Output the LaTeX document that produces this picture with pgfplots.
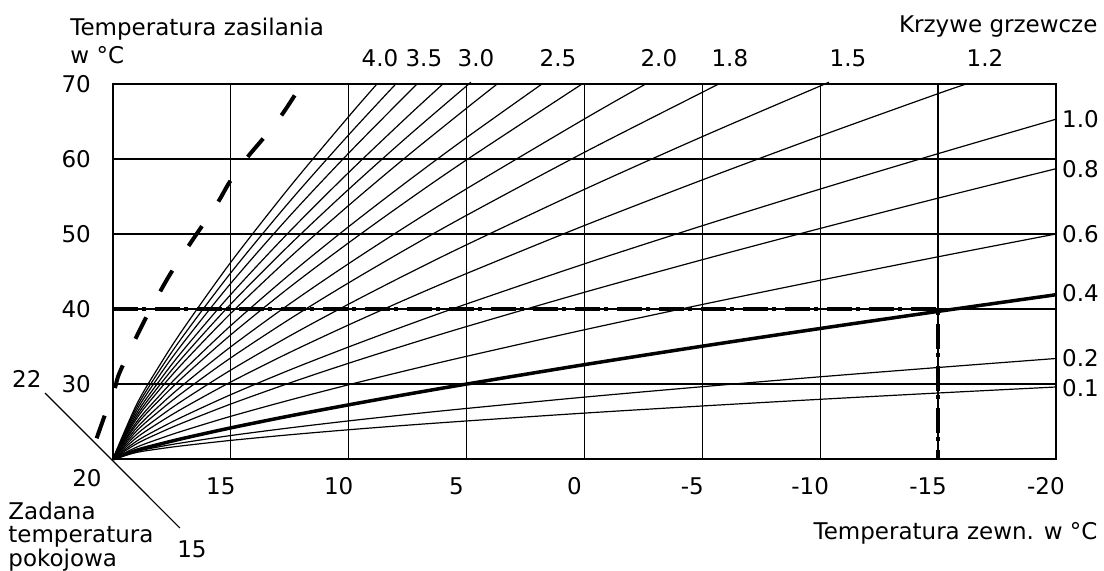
\documentclass[border=0pt]{standalone}
\usepackage{pgfplots}
\pgfplotsset{compat=1.18}
\usepackage{fontspec}
\setmainfont{DejaVu Sans}
\begin{document}
\fontsize{11.5}{13.5}\selectfont
\begin{tikzpicture}
\begin{axis}[
  scale only axis, width=471.5pt, height=187.5pt,
  x dir=reverse, xmin=-20, xmax=20, ymin=20, ymax=70,
  xtick={15,10,5,0,-5,-10,-15,-20},
  xticklabels={15,10,5,0,-5,-10,-15,-20},
  ytick={30,40,50,60,70},
  yticklabels={30,40,50,60,70},
  major tick length=0pt,
  grid=major, grid style={black, line width=0.65pt},
  axis line style={black, line width=1pt},
  clip=false,
  yticklabel style={xshift=-7pt},
  xticklabel style={yshift=-5.3pt, xshift=-5pt},
  hc/.style={black, solid, line width=0.6pt, smooth, no marks},
]
% invisible frame for picture size
\path (axis cs:24.79,81.2) rectangle (axis cs:-22.04,5.07);

% top-ending curves
\addplot[hc] coordinates {(20,20)(19,27.24)(18,32.59)(17,37.42)(15,46.23)(12.5,56.27)(10,65.66)(8.8,70)};
\addplot[hc] coordinates {(20,20)(19,26.85)(18,31.92)(17,36.49)(15,44.82)(12.5,54.34)(10,63.22)(8,70)};
\addplot[hc] coordinates {(20,20)(19,26.46)(18,31.25)(17,35.56)(15,43.42)(12.5,52.40)(10,60.78)(7.5,68.75)(7.1,70)};
\addplot[hc] coordinates {(20,20)(19,26.06)(18,30.54)(17,34.58)(15,41.94)(12.5,50.35)(10,58.20)(7.5,65.67)(6.0,70)};
\addplot[hc] coordinates {(20,20)(19,25.70)(18,29.92)(17,33.72)(15,40.66)(12.5,48.57)(10,55.96)(7.5,62.99)(5,69.74)(4.9,70)};
\addplot[hc] coordinates {(20,20)(19,25.36)(18,29.33)(17,32.90)(15,39.42)(12.5,46.87)(10,53.81)(7.5,60.43)(5,66.77)(3.7,70)};
\addplot[hc] coordinates {(20,20)(19,24.91)(18,28.54)(17,31.82)(15,37.79)(12.5,44.61)(10,50.98)(7.5,57.03)(5,62.85)(1.8,70)};
\addplot[hc] coordinates {(20,20)(19,24.57)(18,27.95)(17,31.00)(15,36.56)(12.5,42.91)(10,48.83)(7.5,54.47)(5,59.88)(0.1,70)};
\addplot[hc] coordinates {(20,20)(19,24.13)(18,27.18)(17,29.94)(15,34.96)(12.5,40.69)(10,46.05)(7.5,51.14)(5,56.03)(0,65.34)(-2.6,70)};
\addplot[hc] coordinates {(20,20)(19,23.72)(18,26.48)(17,28.96)(15,33.49)(12.5,38.66)(10,43.49)(7.5,48.08)(5,52.49)(0,60.89)(-5,68.89)(-5.7,70)};
\addplot[hc] coordinates {(20,20)(19,23.27)(18,25.70)(17,27.88)(15,31.86)(12.5,36.41)(10,40.65)(7.5,44.69)(5,48.56)(0,55.95)(-5,62.98)(-10,69.73)(-10.2,70)};
\addplot[hc] coordinates {(20,20)(19,22.83)(18,24.93)(17,26.82)(15,30.27)(12.5,34.21)(10,37.88)(7.5,41.38)(5,44.73)(0,51.13)(-5,57.21)(-10,63.06)(-15,68.71)(-16.2,70)};
% right-ending curves
\addplot[hc] coordinates {(20,20)(19,22.37)(18,24.12)(17,25.70)(15,28.58)(12.5,31.87)(10,34.94)(7.5,37.87)(5,40.67)(0,46.02)(-5,51.10)(-10,55.99)(-15,60.71)(-20,65.3)};
\addplot[hc] coordinates {(20,20)(19,22.02)(18,23.52)(17,24.87)(15,27.33)(12.5,30.14)(10,32.77)(7.5,35.26)(5,37.66)(0,42.23)(-5,46.57)(-10,50.74)(-15,54.78)(-20,58.7)};
\addplot[hc] coordinates {(20,20)(19,21.57)(18,22.73)(17,23.78)(15,25.69)(12.5,27.86)(10,29.90)(7.5,31.83)(5,33.69)(0,37.23)(-5,40.60)(-10,43.83)(-15,46.96)(-20,50)};
\addplot[hc, line width=1.75pt] coordinates {(20,20)(19,21.15)(18,21.99)(17,22.76)(15,24.15)(12.5,25.74)(10,27.22)(7.5,28.64)(5,29.99)(0,32.58)(-5,35.04)(-10,37.40)(-15,39.68)(-20,41.9)};
\addplot[hc] coordinates {(20,20)(19,21.01)(18,21.65)(17,22.19)(15,23.13)(12.5,24.15)(10,25.08)(7.5,25.94)(5,26.74)(0,28.25)(-5,29.64)(-10,30.96)(-15,32.20)(-20,33.4)};
\addplot[hc] coordinates {(20,20)(19,20.87)(18,21.37)(17,21.78)(15,22.48)(12.5,23.23)(10,23.90)(7.5,24.51)(5,25.07)(0,26.12)(-5,27.07)(-10,27.96)(-15,28.80)(-20,29.6)};

% dashed curve (room setpoint 22)
\addplot[black, no marks, smooth, line width=2pt, dash pattern=on 12pt off 14.75pt] coordinates {(20.69,22.76)(20.34,25.87)(19.92,29.43)(19.70,31.64)(18.70,38.20)(17.67,44.13)(16.81,48.31)(16.24,50.97)(15.53,54.31)(15.04,56.97)(14.33,60.09)(13.62,62.76)(12.84,65.87)(12.28,68.53)};

% dash-dot reading line
\addplot[black, no marks, sharp plot, line width=2pt, dash pattern=on 12.5pt off 2pt on 2pt off 4.5pt] coordinates {(20,40)(-15,40)(-15,20)};

% texts
\node[anchor=base west, inner sep=0] at (axis cs:21.82,76.53) {Temperatura zasilania};
\node[anchor=base west, inner sep=0] at (axis cs:21.82,72.67) {w °C};
\node[anchor=base east, inner sep=0] at (axis cs:-21.78,76.93) {Krzywe grzewcze};
\node[anchor=base, inner sep=0] at (axis cs:8.67,72.27) {4.0};
\node[anchor=base, inner sep=0] at (axis cs:6.81,72.27) {3.5};
\node[anchor=base, inner sep=0] at (axis cs:4.60,72.27) {3.0};
\node[anchor=base, inner sep=0] at (axis cs:1.12,72.27) {2.5};
\node[anchor=base, inner sep=0] at (axis cs:-3.16,72.27) {2.0};
\node[anchor=base, inner sep=0] at (axis cs:-6.17,72.27) {1.8};
\node[anchor=base, inner sep=0] at (axis cs:-11.18,72.27) {1.5};
\node[anchor=base, inner sep=0] at (axis cs:-16.99,72.27) {1.2};
\node[anchor=west, inner sep=0] at (axis cs:-20.25,65.33) {1.0};
\node[anchor=west, inner sep=0] at (axis cs:-20.25,58.67) {0.8};
\node[anchor=west, inner sep=0] at (axis cs:-20.25,50) {0.6};
\node[anchor=west, inner sep=0] at (axis cs:-20.25,42.1) {0.4};
\node[anchor=west, inner sep=0] at (axis cs:-20.25,33.47) {0.2};
\node[anchor=west, inner sep=0] at (axis cs:-20.25,29.47) {0.1};
\node[inner sep=0] at (axis cs:21.10,17.47) {20};
\node[inner sep=0] at (axis cs:23.65,30.67) {22};
\node[inner sep=0] at (axis cs:16.65,8.0) {15};
\draw[line width=0.6pt] (axis cs:22.88,28.8) -- (axis cs:17.16,10.8);
\node[anchor=base west, inner sep=0] at (axis cs:24.45,11.87) {Zadana};
\node[anchor=base west, inner sep=0] at (axis cs:24.45,8.8) {temperatura};
\node[anchor=base west, inner sep=0] at (axis cs:24.45,5.73) {pokojowa};
\node[anchor=base east, inner sep=0] at (axis cs:-21.78,9.2) {Temperatura zewn. w °C};
\end{axis}
\end{tikzpicture}
\end{document}
